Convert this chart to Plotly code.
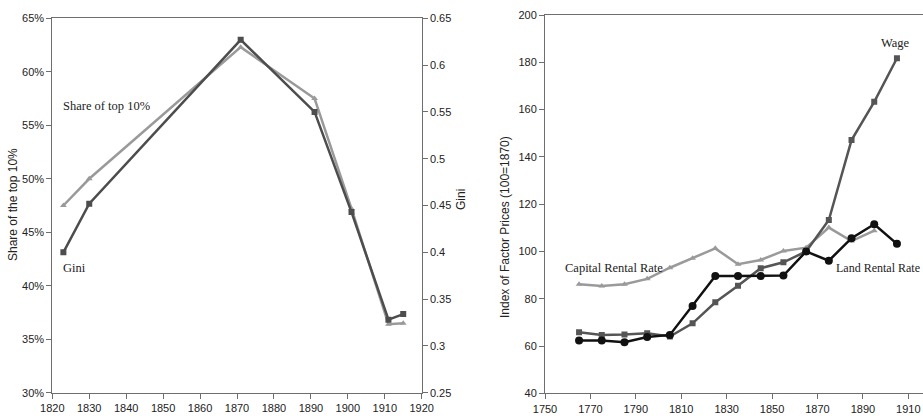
import plotly.graph_objects as go

W, H = 923, 416

# ---- Left panel data ----
ineq_years = [1823, 1830, 1871, 1891, 1901, 1911, 1915]
top10_share = [47.5, 50.0, 62.3, 57.5, 47.2, 36.4, 36.5]   # percent, left axis
gini = [0.400, 0.452, 0.627, 0.550, 0.443, 0.328, 0.334]    # right axis

left_pct_ticks = [30, 35, 40, 45, 50, 55, 60, 65]
left_pct_labels = ["30%", "35%", "40%", "45%", "50%", "55%", "60%", "65%"]
gini_ticks = [0.25, 0.30, 0.35, 0.40, 0.45, 0.50, 0.55, 0.60, 0.65]
gini_labels = ["0.25", "0.3", "0.35", "0.4", "0.45", "0.5", "0.55", "0.6", "0.65"]

# ---- Right panel data ----
fp_years = [1765, 1775, 1785, 1795, 1805, 1815, 1825, 1835, 1845, 1855, 1865, 1875, 1885, 1895, 1905]
capital_rate = [86.1, 85.4, 86.1, 88.4, 93.1, 97.1, 101.3, 94.6, 96.4, 100.2, 101.6, 110.1, 104.4, 108.8]
wage = [65.8, 64.7, 64.9, 65.4, 64.0, 69.6, 78.5, 85.5, 92.9, 95.4, 100.0, 113.3, 147.1, 163.3, 181.7]
land_rate = [62.3, 62.3, 61.6, 63.8, 64.7, 76.9, 89.6, 89.6, 89.6, 89.8, 100.0, 96.1, 105.6, 111.5, 103.2]

def px(x):
    return x / W

def py(y):
    return 1 - y / H

AX = "#6e6e6e"
SANS = "Liberation Sans, Arial, sans-serif"
TICKFONT = dict(family=SANS, size=11, color="#222")
SERIF = dict(family="Liberation Serif, Times New Roman, serif", size=12.5, color="#222")

fig = go.Figure()

# Left panel
fig.add_trace(go.Scatter(x=ineq_years, y=top10_share, xaxis="x", yaxis="y",
                         mode="lines+markers", line=dict(color="#9a9a9a", width=2.5),
                         marker=dict(symbol="triangle-up", size=6, color="#9a9a9a"),
                         showlegend=False))
fig.add_trace(go.Scatter(x=ineq_years, y=gini, xaxis="x", yaxis="y2",
                         mode="lines+markers", line=dict(color="#4d4d4d", width=2.5),
                         marker=dict(symbol="square", size=6, color="#4d4d4d"),
                         showlegend=False))

# Right panel
fig.add_trace(go.Scatter(x=fp_years[:len(capital_rate)], y=capital_rate, xaxis="x3", yaxis="y3",
                         mode="lines+markers", line=dict(color="#9a9a9a", width=2.5),
                         marker=dict(symbol="triangle-up", size=6, color="#9a9a9a"),
                         showlegend=False))
fig.add_trace(go.Scatter(x=fp_years, y=wage, xaxis="x3", yaxis="y3",
                         mode="lines+markers", line=dict(color="#555555", width=2.5),
                         marker=dict(symbol="square", size=6, color="#555555"),
                         showlegend=False))
fig.add_trace(go.Scatter(x=fp_years, y=land_rate, xaxis="x3", yaxis="y3",
                         mode="lines+markers", line=dict(color="#111111", width=2.5),
                         marker=dict(symbol="circle", size=8, color="#111111"),
                         showlegend=False))

L_x0, L_x1, L_top, L_bot = 52.3, 421.7, 18.3, 392.7
R_x0, R_top, R_bot = 545.0, 15.0, 393.3
# right x axis: 1750 at 545 px, 1910 at 908.3 px
r_ppy = (908.3 - 545.0) / 160.0
r_xmax = 1750 + (W - R_x0) / r_ppy

common = dict(showgrid=False, zeroline=False, showline=True, linecolor=AX, linewidth=1,
              ticks="outside", ticklen=5, tickcolor=AX, tickwidth=1, tickfont=TICKFONT,
              automargin=False)

fig.update_layout(
    template="none",
    width=W, height=H,
    margin=dict(l=0, r=0, t=0, b=0, pad=0),
    paper_bgcolor="white", plot_bgcolor="white",
    xaxis=dict(domain=[px(L_x0), px(L_x1)], range=[1820, 1920], dtick=10, tick0=1820,
               anchor="y", mirror=True, **common),
    yaxis=dict(domain=[py(L_bot), py(L_top)], range=[30, 65], tickvals=left_pct_ticks,
               ticktext=left_pct_labels, anchor="x", **common),
    yaxis2=dict(range=[0.25, 0.65], tickvals=gini_ticks, ticktext=gini_labels,
                overlaying="y", side="right", anchor="x", **common),
    xaxis3=dict(domain=[px(R_x0), 1.0], range=[1750, r_xmax], dtick=20, tick0=1750,
                anchor="y3", mirror=True, **common),
    yaxis3=dict(domain=[py(R_bot), py(R_top)], range=[40, 200], dtick=20, tick0=40,
                anchor="x3", **common),
)

TITLEFONT = dict(family=SANS, size=12, color="#222")
annots = [
    dict(x=px(13), y=py(205), text="Share of the top 10%", textangle=-90, font=TITLEFONT),
    dict(x=px(461), y=py(200), text="Gini", textangle=-90, font=TITLEFONT),
    dict(x=px(505), y=py(227), text="Index of Factor Prices (100=1870)", textangle=-90,
         font=TITLEFONT),
    dict(x=px(61), y=py(106), text="Share of top 10%", xanchor="left", font=SERIF),
    dict(x=px(61), y=py(268), text="Gini", xanchor="left", font=SERIF),
    dict(x=px(895), y=py(43), text="Wage", font=SERIF),
    dict(x=px(563), y=py(268), text="Capital Rental Rate", xanchor="left", font=SERIF),
    dict(x=px(922), y=py(268), text="Land Rental Rate", xanchor="right",
         font=dict(SERIF, size=12)),
]
for a in annots:
    a.update(xref="paper", yref="paper", showarrow=False)
    a.setdefault("xanchor", "center")
    a.setdefault("yanchor", "middle")
fig.update_layout(annotations=annots)

fig.write_html("out.html", config={"displayModeBar": False},
               post_script="document.body.style.margin='0';document.body.style.padding='0';")
